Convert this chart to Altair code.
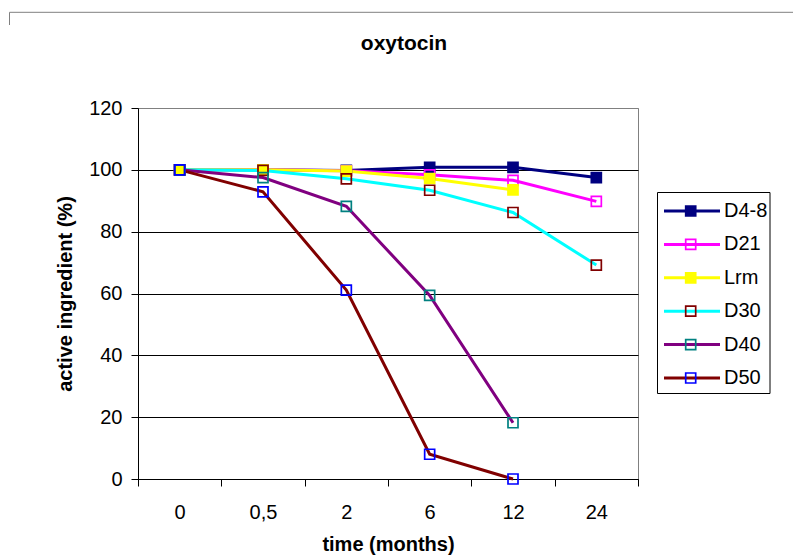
import altair as alt
import pandas as pd

# ---- data ----
times = ["0", "0,5", "2", "6", "12", "24"]
series_names = ["D4-8", "D21", "Lrm", "D30", "D40", "D50"]

d4_8 = [100, 100, 99.8, 100.8, 100.8, 97.5]
d21 = [100, 100, 99.7, 98.4, 96.6, 89.8]
lrm = [100, 100, 99.6, 97.2, 93.5, None]
d30 = [100, 99.8, 97.1, 93.4, 86.2, 69.2]
d40 = [100, 97.5, 88.2, 59.4, 18.2, None]
d50 = [100, 92.9, 61.1, 8.0, 0.0, None]

line_colors = ["#000080", "#FF00FF", "#FFFF00", "#00FFFF", "#800080", "#800000"]
marker_strokes = ["#000080", "#FF00FF", "#FFFF00", "#800000", "#008080", "#0000FF"]
marker_fills = ["#000080", "transparent", "#FFFF00", "transparent", "transparent", "transparent"]

chart_title = "oxytocin"
x_title = "time (months)"
y_title = "active ingredient (%)"
y_ticks = [0, 20, 40, 60, 80, 100, 120]

FONT = "Liberation Sans"

# ---- build tables ----
all_values = [d4_8, d21, lrm, d30, d40, d50]
rows = []
for si, (name, vals) in enumerate(zip(series_names, all_values)):
    for t, v in zip(times, vals):
        if v is not None:
            rows.append({"series": name, "time": t, "value": v, "ord": si})
df = pd.DataFrame(rows)
legend_df = pd.DataFrame({"series": series_names, "ord": list(range(len(series_names)))})
one = pd.DataFrame({"t": [chart_title]})

color_scale = alt.Scale(domain=series_names, range=line_colors)
stroke_scale = alt.Scale(domain=series_names, range=marker_strokes)
fill_scale = alt.Scale(domain=series_names, range=marker_fills)

x_enc = alt.X(
    "time:O",
    sort=times,
    scale=alt.Scale(type="band", domain=times, paddingInner=0, paddingOuter=0),
    axis=alt.Axis(
        tickBand="extent",
        tickSize=7,
        tickColor="black",
        domainColor="black",
        labelAngle=0,
        labelFont=FONT,
        labelFontSize=20,
        labelColor="black",
        labelBaseline="alphabetic",
        labelPadding=32,
        grid=False,
        title=x_title,
        titleFont=FONT,
        titleFontSize=20,
        titleFontWeight="bold",
        titleColor="black",
        titleBaseline="middle",
        titleX=250,
        titleY=65,
    ),
)
y_enc = alt.Y(
    "value:Q",
    scale=alt.Scale(domain=[0, 120], nice=False),
    axis=alt.Axis(
        values=y_ticks,
        grid=True,
        gridColor={"condition": {"test": "datum.value === 120", "value": "#808080"}, "value": "black"},
        gridWidth=1,
        tickSize=7,
        tickColor="black",
        domainColor="black",
        labelFont=FONT,
        labelFontSize=20,
        labelColor="black",
        labelPadding=9,
        title=y_title,
        titleFont=FONT,
        titleFontSize=20,
        titleFontWeight="bold",
        titleColor="black",
        titleAngle=270,
        titleBaseline="middle",
        titleAlign="center",
        titleX=-72.5,
        titleY=185.5,
    ),
)

lines = alt.Chart(df).mark_line(strokeWidth=3).encode(
    x=x_enc,
    y=y_enc,
    color=alt.Color("series:N", scale=color_scale, legend=None),
    order=alt.Order("ord:Q"),
)
points = alt.Chart(df).mark_point(shape="square", size=100, strokeWidth=1.7, opacity=1).encode(
    x=x_enc,
    y=y_enc,
    stroke=alt.Stroke("series:N", scale=stroke_scale, legend=None),
    fill=alt.Fill("series:N", scale=fill_scale, legend=None),
    order=alt.Order("ord:Q"),
)
main = alt.layer(lines, points)

# ---- custom legend (Excel style: line with marker) ----
leg_y = alt.Y(
    "series:N",
    sort=series_names,
    scale=alt.Scale(type="point", domain=series_names, range=[103, 270], padding=0),
    axis=None,
)
leg_box = alt.Chart(one).mark_rect(fill="white", stroke="black", strokeWidth=1).encode(
    x=alt.value(519.5), x2=alt.value(632), y=alt.value(84.5), y2=alt.value(285.5)
)
leg_rule = alt.Chart(legend_df).mark_rule(strokeWidth=3).encode(
    x=alt.value(526),
    x2=alt.value(582),
    y=leg_y,
    color=alt.Color("series:N", scale=color_scale, legend=None),
)
leg_pts = alt.Chart(legend_df).mark_point(shape="square", size=100, strokeWidth=1.7, opacity=1).encode(
    x=alt.value(552.7),
    y=leg_y,
    stroke=alt.Stroke("series:N", scale=stroke_scale, legend=None),
    fill=alt.Fill("series:N", scale=fill_scale, legend=None),
)
leg_txt = alt.Chart(legend_df).mark_text(
    align="left", baseline="middle", font=FONT, fontSize=20, color="black"
).encode(x=alt.value(586), y=leg_y, text="series:N")
legend = alt.layer(leg_box, leg_rule, leg_pts, leg_txt)

# ---- title and partial outer frame ----
title_txt = alt.Chart(one).mark_text(
    font=FONT, fontSize=21, fontWeight="bold", color="black", align="center", baseline="alphabetic"
).encode(x=alt.value(266), y=alt.value(-58), text="t:N")
frame_top = alt.Chart(one).mark_rule(color="#808080", strokeWidth=1).encode(
    x=alt.value(-128.5), x2=alt.value(655), y=alt.value(-95.7)
)
frame_left = alt.Chart(one).mark_rule(color="#808080", strokeWidth=1).encode(
    x=alt.value(-128.5), y=alt.value(-95.7), y2=alt.value(-83)
)

chart = (
    alt.layer(main, legend, title_txt, frame_top, frame_left)
    .resolve_scale(y="independent")
    .properties(
        width=500,
        height=371,
        autosize=alt.AutoSizeParams(type="none"),
        padding={"left": 138, "top": 108, "right": 155, "bottom": 77},
        background="white",
    )
    .configure_view(stroke="#808080", strokeWidth=1)
)

chart.save("out.html", embed_options={"renderer": "svg", "actions": False})
